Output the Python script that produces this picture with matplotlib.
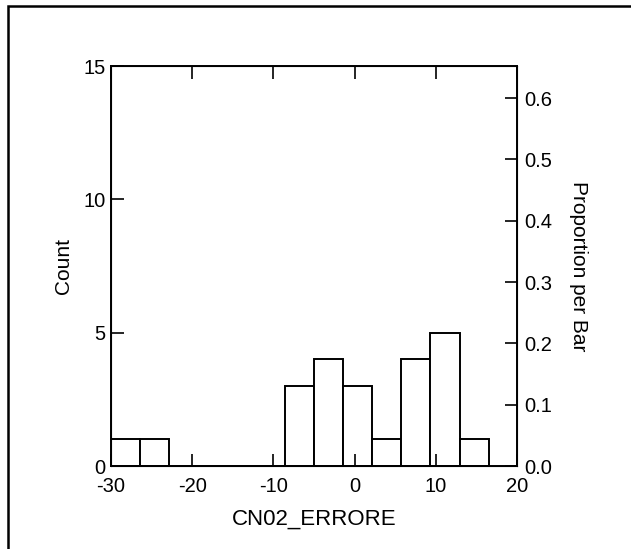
import numpy as np
import matplotlib
matplotlib.use('Agg')
import matplotlib.pyplot as plt
from matplotlib.patches import Rectangle

plt.rcParams['font.family'] = ['Liberation Sans', 'DejaVu Sans']
plt.rcParams['font.size'] = 14.5
plt.rcParams['axes.unicode_minus'] = False

# histogram of CN02_ERRORE
bin_edges = np.linspace(-30, 16.5, 14)
counts = [1, 1, 0, 0, 0, 0, 3, 4, 3, 1, 4, 5, 1]
x_ticks = [-30, -20, -10, 0, 10, 20]
count_ticks = [0, 5, 10, 15]
prop_ticks = [0.0, 0.1, 0.2, 0.3, 0.4, 0.5, 0.6]

total = sum(counts)

fig = plt.figure(figsize=(6.31, 5.49), dpi=100)
W, H = 631, 549
ax = fig.add_axes([111 / W, 1 - 466 / H, (517 - 111) / W, (466 - 66) / H])

widths = np.diff(bin_edges)
ax.bar(bin_edges[:-1], counts, width=widths, align='edge',
       facecolor='white', edgecolor='black', linewidth=1.4)

ax.set_xlim(-30, 20)
ax.set_ylim(0, 15)
ax.set_xticks(x_ticks)
ax.set_yticks(count_ticks)
ax.tick_params(direction='in', length=9, width=1.2, top=True, right=False)
ax.tick_params(axis='x', pad=8)
ax.tick_params(axis='y', pad=4)
for s in ax.spines.values():
    s.set_linewidth(1.4)
ax.set_xlabel('CN02_ERRORE', fontsize=16, labelpad=9)
ax.set_ylabel('Count', fontsize=15, labelpad=7)

ax2 = ax.twinx()
ax2.set_ylim(0, 15 / total)
ax2.set_yticks(prop_ticks)
ax2.set_yticklabels([f'{p:.1f}' for p in prop_ticks])
ax2.tick_params(direction='in', length=9, width=1.2, pad=5)
ax2.set_ylabel('Proportion per Bar', fontsize=15, rotation=-90, labelpad=26)

# outer frame
fig.patches.append(Rectangle((8 / W, -0.1), 1.1, 1 - 6 / H + 0.1, transform=fig.transFigure,
                             fill=False, edgecolor='black', linewidth=1.8))

fig.savefig('out.png', dpi=100)
